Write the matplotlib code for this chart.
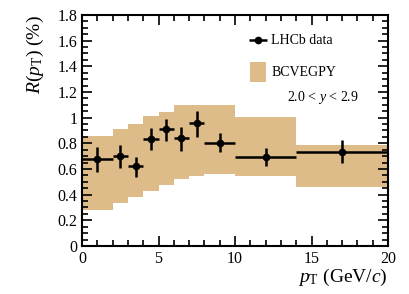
import matplotlib
matplotlib.use("Agg")
import matplotlib.pyplot as plt
import numpy as np
from matplotlib.ticker import MultipleLocator, FuncFormatter
from matplotlib.patches import Rectangle

# Data
bin_edges = [0, 2, 3, 4, 5, 6, 7, 8, 10, 14, 20]
x_centers = [1, 2.5, 3.5, 4.5, 5.5, 6.5, 7.5, 9, 12, 17]
data_vals = [0.675, 0.70, 0.62, 0.835, 0.91, 0.84, 0.955, 0.80, 0.695, 0.735]
data_err_up = [0.095, 0.09, 0.07, 0.085, 0.08, 0.09, 0.10, 0.08, 0.065, 0.09]
data_err_dn = [0.095, 0.09, 0.08, 0.09, 0.09, 0.10, 0.105, 0.07, 0.07, 0.085]
band_lo = [0.28, 0.335, 0.38, 0.43, 0.475, 0.525, 0.548, 0.564, 0.546, 0.462]
band_hi = [0.86, 0.91, 0.95, 1.01, 1.047, 1.097, 1.10, 1.10, 1.005, 0.787]

band_color = "#DEBC8A"

plt.rcParams['font.family'] = ['Liberation Serif', 'DejaVu Serif']
plt.rcParams['mathtext.fontset'] = 'custom'
plt.rcParams['mathtext.rm'] = 'Liberation Serif'
plt.rcParams['mathtext.it'] = 'Liberation Serif:italic'

fig = plt.figure(figsize=(4.09, 2.94), dpi=100)
ax = fig.add_axes([0.2005, 0.1633, 0.7482, 0.7857])

lo_e = bin_edges[:-1]
hi_e = bin_edges[1:]
for l, h, blo, bhi in zip(lo_e, hi_e, band_lo, band_hi):
    ax.add_patch(Rectangle((l, blo), h - l, bhi - blo, facecolor=band_color,
                           edgecolor='none', zorder=1))

xerr = [np.array(x_centers) - np.array(lo_e), np.array(hi_e) - np.array(x_centers)]
ax.errorbar(x_centers, data_vals, yerr=[data_err_dn, data_err_up], xerr=xerr,
            fmt='o', color='black', ms=4.5, elinewidth=1.8, capsize=0, zorder=3)

ax.set_xlim(0, 20)
ax.set_ylim(0, 1.8)
ax.xaxis.set_major_locator(MultipleLocator(5))
ax.xaxis.set_minor_locator(MultipleLocator(1))
ax.yaxis.set_major_locator(MultipleLocator(0.2))
ax.yaxis.set_minor_locator(MultipleLocator(0.05))
ax.yaxis.set_major_formatter(FuncFormatter(lambda v, p: ('%g' % round(v, 2))))
ax.tick_params(which='both', direction='in', top=True, right=True, width=1.2,
               labelsize=11.5, colors='black')
ax.tick_params(which='major', length=7)
ax.tick_params(which='minor', length=4)
for s in ax.spines.values():
    s.set_linewidth(1.5)

ax.set_ylabel(r'$R(p_{\rm T})$ (%)', fontsize=14, loc='top', labelpad=8)
ax.set_xlabel(r'$p_{\rm T}$ (GeV/$c$)', fontsize=14, loc='right', labelpad=0)

# Legend (manual)
ax.errorbar([11.5], [1.605], xerr=[[0.6], [0.6]], fmt='o', color='black', ms=4.5,
            elinewidth=1.8, zorder=4)
ax.text(12.35, 1.605, 'LHCb data', fontsize=10, va='center', ha='left')
ax.add_patch(Rectangle((10.98, 1.278), 1.05, 0.156, facecolor=band_color,
                       edgecolor='none', zorder=2))
ax.text(12.4, 1.35, 'BCVEGPY', fontsize=10, va='center', ha='left')
ax.text(13.4, 1.16, r'2.0 < $y$ < 2.9', fontsize=10, va='center', ha='left')

fig.savefig('out.png', dpi=100)
